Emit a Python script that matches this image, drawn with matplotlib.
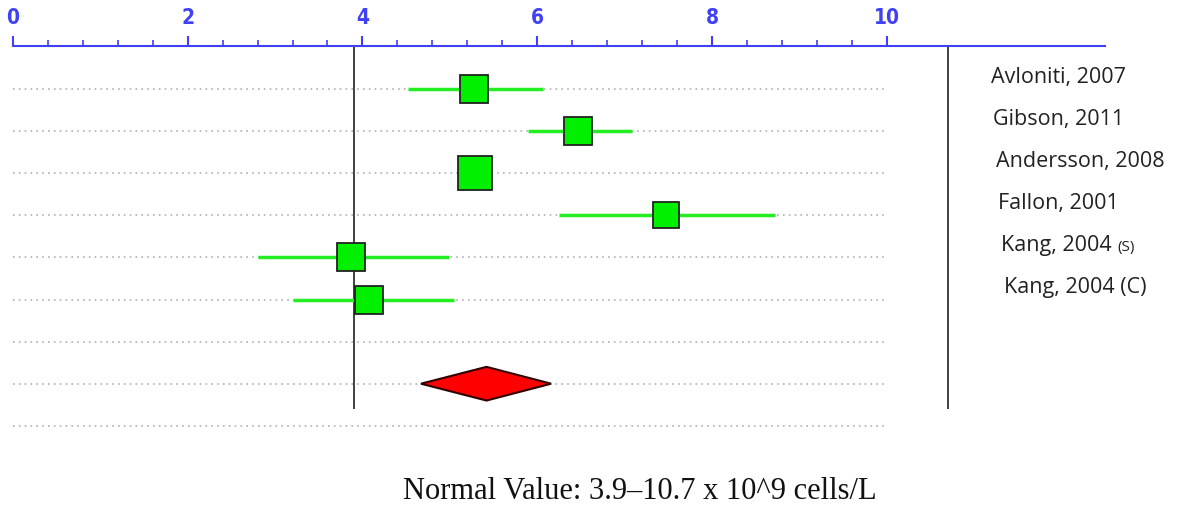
import matplotlib
matplotlib.use("Agg")
import matplotlib.pyplot as plt
import numpy as np

# study data
studies = ["Avloniti, 2007", "Gibson, 2011", "Andersson, 2008",
           "Fallon, 2001", "Kang, 2004", "Kang, 2004 (C)"]
means = [5.28, 6.47, 5.29, 7.48, 3.87, 4.08]
ci_low = [4.52, 5.90, 5.29, 6.25, 2.80, 3.20]
ci_high = [6.07, 7.09, 5.29, 8.72, 4.99, 5.05]
weights = [16.5, 16.5, 20.0, 15.5, 16.5, 16.5]

pooled_mean = 5.42
pooled_low = 4.67
pooled_high = 6.16

normal_low = 3.9
normal_high = 10.7

W, H = 1198, 510
fig = plt.figure(figsize=(W / 100, H / 100), dpi=100)

# axes: x from 0 (px 13) to 12.5 (px 1105), top spine at px 47
px_per_row = 42.1
row0 = 90
top_px, bot_px = 47, 469
ax = fig.add_axes([13 / W, 1 - bot_px / H, (1105 - 13) / W, (bot_px - top_px) / H])
ax.set_xlim(0, 12.5)
y_top = (top_px - row0) / px_per_row
y_bot = (bot_px - row0) / px_per_row
ax.set_ylim(y_bot, y_top)

for s in ["left", "right", "bottom"]:
    ax.spines[s].set_visible(False)
blue = "#4040f4"
ax.spines["top"].set_color(blue)
ax.spines["top"].set_linewidth(1.5)
ax.xaxis.set_ticks_position("top")
ax.set_xticks(np.arange(0, 10.01, 2))
ax.set_xticks(np.arange(0, 10.01, 0.4), minor=True)
ax.tick_params(axis="x", which="major", direction="out", length=7, width=1.5,
               color=blue, labelcolor=blue, pad=7, labelsize=15)
ax.tick_params(axis="x", which="minor", direction="out", length=4.5, width=1.2, color=blue)
for lab in ax.get_xticklabels():
    lab.set_fontweight("bold")
    lab.set_family("DejaVu Sans")
    lab.set_fontstretch("condensed")
ax.set_yticks([])

n_rows = 9
rows = np.arange(n_rows)
ax.hlines(rows, 0, 10, colors="#b0b0b0", linestyles=(0, (1, 2.5)), linewidth=1.2, zorder=1)

# normal range lines
line_bottom = (410 - row0) / px_per_row
ax.vlines([normal_low, normal_high], y_top, line_bottom, colors="#333333", linewidth=1.3, zorder=2)

# studies
for i in range(len(studies)):
    ax.plot([ci_low[i], ci_high[i]], [i, i], color="#22ee22", linewidth=2.5, zorder=3,
            solid_capstyle="butt")
    ax.plot(means[i], i, marker="s", markersize=weights[i] * 1.24, color="#00f000",
            markeredgecolor="#222222", markeredgewidth=1.3, zorder=4)

# pooled diamond
drow = 7
ax.fill([pooled_low, pooled_mean, pooled_high, pooled_mean],
        [drow, drow - 0.4, drow, drow + 0.4],
        facecolor="#ff0000", edgecolor="#330000", linewidth=1.5, zorder=4)

# study labels
label_x = 11.19
fig.canvas.draw()
for i, name in enumerate(studies):
    t = ax.text(label_x + 0.03 * i, i - 0.17, name, fontsize=15.5, family="Open Sans",
                color="#222222", va="baseline", ha="left", clip_on=False)
    if i == 4:
        bb = t.get_window_extent(renderer=fig.canvas.get_renderer())
        x_end = ax.transData.inverted().transform((bb.x1, bb.y0))[0]
        ax.text(x_end + 0.06, i - 0.17, "(S)", fontsize=11, family="Open Sans",
                color="#222222", va="baseline", ha="left", clip_on=False)

fig.text(640 / W, 1 - 492 / H, "Normal Value: 3.9\u201310.7 x 10^9 cells/L",
         family="Liberation Serif", fontsize=22, ha="center", va="center", color="#111111")

fig.savefig("out.png", dpi=100)
